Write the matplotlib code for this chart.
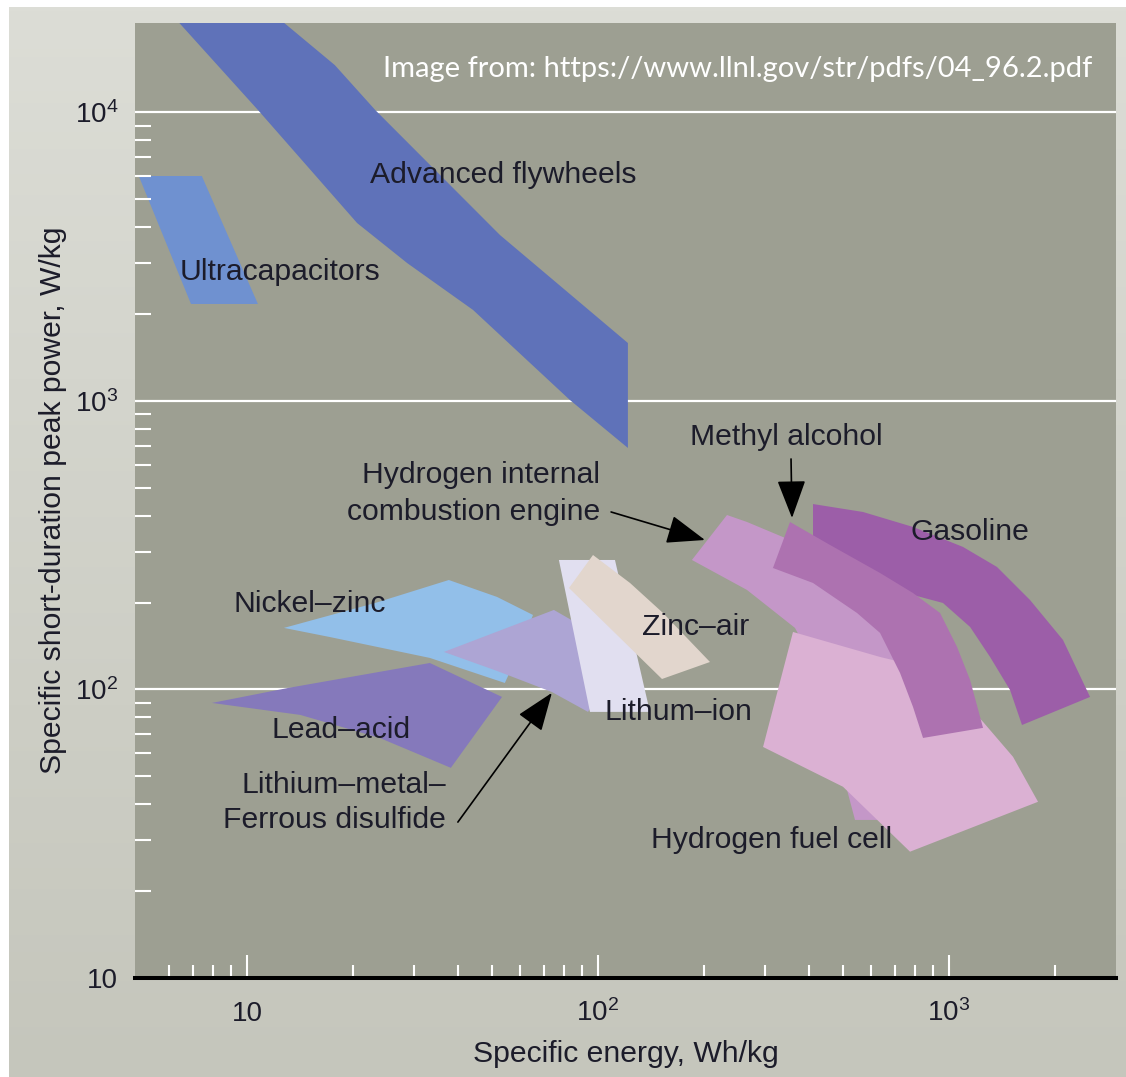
import numpy as np
import matplotlib
matplotlib.use("Agg")
import matplotlib.pyplot as plt
from matplotlib.patches import Polygon
from matplotlib.colors import LinearSegmentedColormap
from matplotlib.ticker import NullFormatter

plt.rcParams['font.family'] = ['Liberation Sans', 'DejaVu Sans']
plt.rcParams['mathtext.fontset'] = 'custom'
plt.rcParams['mathtext.rm'] = 'Liberation Sans'
plt.rcParams['mathtext.it'] = 'Liberation Sans:italic'
plt.rcParams['mathtext.bf'] = 'Liberation Sans:bold'

# ---- Region outlines: specific energy (Wh/kg) vs. short-duration peak power (W/kg)
flywheel_energy = [6.24, 12.3, 17.8, 23.2, 52.6, 121.7, 121.7, 83.2, 44.1, 28.6, 20.6, 10.75]
flywheel_power = [21200, 21200, 14580, 10190, 3756, 1587, 687, 1007, 2065, 3005, 4135, 10190]

ultracap_energy = [4.92, 7.44, 10.75, 6.93]
ultracap_power = [6017, 6017, 2167, 2167]

nizn_energy = [12.75, 23.2, 37.6, 51.6, 65.3, 59.9, 54.3, 33.2, 17.2]
nizn_power = [163.4, 199.4, 239.5, 209.2, 181.2, 137.1, 105.3, 128.6, 152.0]

leadacid_energy = [7.95, 13.1, 33.2, 53.3, 38.1, 23.9, 14.2]
leadacid_power = [89.8, 101.2, 123.5, 94.2, 53.5, 67.9, 81.6]

lifes_energy = [36.4, 74.9, 88.9, 98.1, 93.7, 73.9, 51.6]
lifes_power = [134.9, 188.6, 167.3, 92.0, 83.6, 98.0, 115.9]

liion_energy = [77.4, 111.8, 140.6, 94.9]
liion_power = [281.0, 281.0, 83.6, 83.6]

znair_energy = [96.8, 123.4, 153.2, 208.5, 152.2, 82.7]
znair_power = [292.4, 233.9, 184.1, 124.5, 108.7, 224.7]

gasoline_energy = [409.8, 568.9, 789.6, 1096, 1370, 1701, 2112, 2522, 1614, 1492, 1309,
                   1148, 961, 790, 636, 489, 409.8]
gasoline_power = [439.1, 412.1, 365.7, 311.8, 265.7, 204.2, 148.4, 94.2, 75.3, 99.6, 129.6,
                  164.7, 199.4, 212.5, 249.3, 281.0, 304.4]

h2ice_energy = [233.1, 265.8, 352.4, 489.3, 636.1, 749.2, 800.2, 774.3, 679.1, 539.8, 512.2,
                473.4, 415.1, 364.1, 265.8, 185.2]
h2ice_power = [402.3, 380.5, 329.6, 270.0, 204.2, 148.4, 92.0, 57.0, 35.3, 35.3, 44.9,
               72.4, 121.6, 163.4, 221.2, 281.0]

fuelcell_energy = [359.4, 636.1, 749.2, 942.8, 1250, 1522, 1793, 774.3, 498.9, 295.3]
fuelcell_power = [158.2, 129.6, 123.5, 112.2, 77.2, 58.4, 40.8, 27.4, 46.0, 63.2]

methanol_energy = [352.4, 458.1, 636.1, 789.6, 942.8, 1054, 1148, 1250, 843.3, 789.6,
                   725.2, 636.1, 546.9, 409.8, 315.1]
methanol_power = [380.5, 316.8, 253.3, 215.9, 184.1, 140.4, 107.9, 73.6, 67.9, 87.0,
                  114.1, 157.0, 184.1, 233.9, 263.6]

# ---- Axis ticks
x_major = [10, 100, 1000]
x_major_labels = ['10', r'$10^2$', r'$10^3$']
x_minor = [6, 7, 8, 9, 20, 30, 40, 50, 60, 70, 80, 90,
           200, 300, 400, 500, 600, 700, 800, 900, 2000]
y_major = [10, 100, 1000, 10000]
y_major_labels = ['10', r'$10^2$', r'$10^3$', r'$10^4$']
y_minor = [20, 30, 40, 50, 60, 70, 80, 90, 200, 300, 400, 500, 600, 700, 800, 900,
           2000, 3000, 4000, 5000, 6000, 7000, 8000, 9000]

TEXT = '#1c1c2a'
FS = 21.7

fig = plt.figure(figsize=(11.26, 10.77), dpi=100, facecolor='white')

# light panel behind the chart
bg = fig.add_axes([9 / 1126, 0, 1 - 9 / 1126, 1 - 7 / 1077], zorder=-10)
panel = LinearSegmentedColormap.from_list('panel', ['#dcddd6', '#c5c6bc'])
bg.imshow(np.linspace(0, 1, 256)[:, None], aspect='auto', cmap=panel,
          extent=[0, 1, 0, 1], origin='upper')
bg.set_axis_off()

ax = fig.add_axes([135 / 1126, 1 - 978 / 1077, 981 / 1126, 955 / 1077])
ax.set_xscale('log')
ax.set_yscale('log')
ax.set_xlim(4.8, 2990)
ax.set_ylim(10, 20400)
ax.set_facecolor('#9d9f92')

for yv in y_major[1:]:
    ax.axhline(yv, color='white', lw=1.6, zorder=0.5)


def region(energy, power, color, z):
    ax.add_patch(Polygon(np.column_stack([energy, power]), closed=True,
                         facecolor=color, edgecolor='none', zorder=z))


region(flywheel_energy, flywheel_power, '#5f72b9', 1)
region(ultracap_energy, ultracap_power, '#6f91d0', 1)
region(leadacid_energy, leadacid_power, '#8579bb', 1)
region(nizn_energy, nizn_power, '#92bfe9', 1.1)
region(lifes_energy, lifes_power, '#ada5d4', 1.2)
region(liion_energy, liion_power, '#e1dff0', 1.3)
region(znair_energy, znair_power, '#e2d6cd', 1.4)
region(gasoline_energy, gasoline_power, '#9c5ea8', 1)
region(h2ice_energy, h2ice_power, '#c497c8', 1.1)
region(fuelcell_energy, fuelcell_power, '#dbb1d3', 1.2)
region(methanol_energy, methanol_power, '#ad72b0', 1.3)

# ---- Labels
labels = [
    ("Advanced flywheels", 22.4, 5689, 'left'),
    ("Ultracapacitors", 6.45, 2624, 'left'),
    ("Methyl alcohol", 182.9, 703.5, 'left'),
    ("Hydrogen internal", 101.3, 519.4, 'right'),
    ("combustion engine", 101.3, 386.6, 'right'),
    ("Gasoline", 774.3, 329.6, 'left'),
    ("Nickel\u2013zinc", 9.18, 185.6, 'left'),
    ("Zinc\u2013air", 133.5, 154.4, 'left'),
    ("Lithum\u2013ion", 104.7, 78.4, 'left'),
    ("Lead\u2013acid", 11.78, 67.9, 'left'),
    ("Lithium\u2013metal\u2013", 36.9, 43.8, 'right'),
    ("Ferrous disulfide", 36.9, 33.1, 'right'),
    ("Hydrogen fuel cell", 141.6, 28.2, 'left'),
]
for txt, xv, yv, ha in labels:
    ax.text(xv, yv, txt, ha=ha, va='baseline', fontsize=FS, color=TEXT, zorder=5)

arrow_style = dict(arrowstyle='-|>,head_length=1.2,head_width=0.45', color='black',
                   lw=1.2, mutation_scale=20, shrinkA=0, shrinkB=0)
arrows = [
    ((201.7, 329.6), (109.0, 412.1)),   # hydrogen ICE
    ((357.1, 392.8), (354.8, 629.1)),   # methyl alcohol
    ((73.9, 97.3), (39.9, 34.7)),       # lithium-metal / FeS2
]
for head, tail in arrows:
    ax.annotate('', xy=head, xytext=tail, arrowprops=arrow_style, zorder=6)

ax.text(0.9755, 0.943, "Image from: https://www.llnl.gov/str/pdfs/04_96.2.pdf",
        transform=ax.transAxes, ha='right', va='baseline', color='white',
        fontsize=21, family=['Lato', 'DejaVu Sans'], zorder=6)

# ---- Axes styling
for side in ('top', 'left', 'right'):
    ax.spines[side].set_visible(False)
ax.spines['bottom'].set_color('black')
ax.spines['bottom'].set_linewidth(2.9)
ax.spines['bottom'].set_zorder(7)

ax.set_xticks(x_major, labels=x_major_labels)
ax.set_xticks(x_minor, minor=True)
ax.set_yticks(y_major, labels=y_major_labels)
ax.set_yticks(y_minor, minor=True)
ax.xaxis.set_minor_formatter(NullFormatter())
ax.yaxis.set_minor_formatter(NullFormatter())

ax.tick_params(axis='x', which='major', direction='in', length=16.5, width=1.5,
               color='white', labelsize=20, labelcolor=TEXT, pad=31)
ax.tick_params(axis='x', which='minor', direction='in', length=9.4, width=1.5,
               color='white')
ax.tick_params(axis='y', which='major', length=0, labelsize=20, labelcolor=TEXT, pad=12)
ax.tick_params(axis='y', which='minor', direction='in', length=11.5, width=1.5,
               color='white')
for lbl in ax.get_xticklabels():
    lbl.set_verticalalignment('baseline')

ax.set_xlabel("Specific energy, Wh/kg", fontsize=FS, color=TEXT, va='baseline')
ax.xaxis.set_label_coords(0.5, -0.088)
ax.set_ylabel("Specific short-duration peak power, W/kg", fontsize=FS, color=TEXT,
              va='center')
ax.yaxis.set_label_coords(-0.0836, 0.5)

fig.savefig('out.png', dpi=100, facecolor='white')
